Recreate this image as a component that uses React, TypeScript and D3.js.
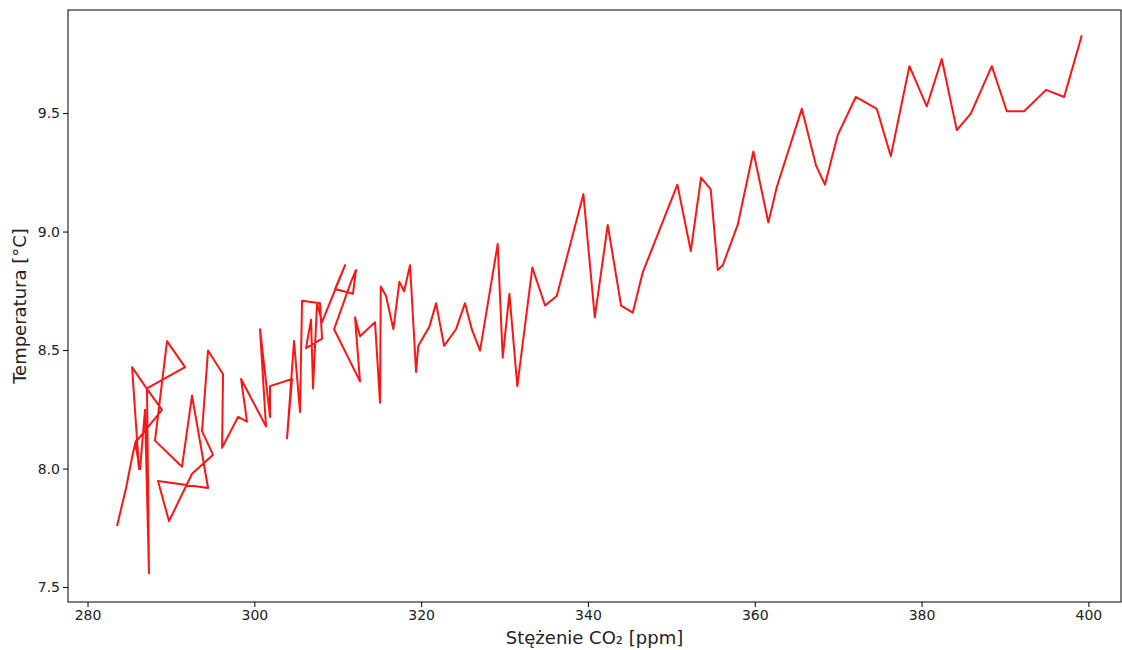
import React from "react";
import * as d3 from "d3";

// CO2 concentration (ppm) in drawing order
const co2 = [
  283.48, 284.56, 285.4, 285.76, 286.12, 285.28, 286.83, 288.87, 285.64, 286.24,
  286.83, 287.31, 287.07,
  291.63, 289.47, 288.03, 291.27, 292.47, 294.39, 288.39, 289.71, 292.47, 294.99,
  293.67, 294.39, 296.19, 296.07, 297.99, 299.06, 298.35, 301.34, 300.62, 301.82,
  301.82, 304.46, 303.86, 304.7, 305.42, 305.66, 307.82, 308.06, 306.14, 306.74,
  306.98, 307.46, 308.06, 310.82, 309.62, 311.77, 312.13, 311.53, 309.5, 312.61,
  312.01, 312.61, 314.41, 315.01,
  315.1, 315.73, 316.61, 317.33, 317.89, 318.61, 319.33, 319.6, 320.92, 321.73,
  322.69, 324.12, 325.2, 326.01, 327.0, 329.12, 329.72, 330.52, 331.47, 333.27,
  334.8, 336.2, 339.39, 340.76, 342.31, 343.91, 345.31, 346.51, 350.66, 352.27,
  353.5, 354.66, 355.5, 356.1, 357.89, 359.77, 361.57, 362.58, 365.58, 367.29,
  368.35, 369.89, 372.05, 374.57, 376.25, 378.48, 380.56, 382.36, 384.16, 385.84,
  388.36, 390.16, 392.23, 394.87, 397.03, 399.15,
];

// temperature (°C), same order
const temp = [
  7.76, 7.92, 8.07, 8.12, 8.0, 8.43, 8.35, 8.25, 8.11, 8.0,
  8.25, 7.56, 8.34,
  8.43, 8.54, 8.12, 8.01, 8.31, 7.92, 7.95, 7.78, 7.98, 8.06,
  8.16, 8.5, 8.4, 8.09, 8.22, 8.2, 8.38, 8.18, 8.59, 8.22,
  8.35, 8.38, 8.13, 8.54, 8.24, 8.71, 8.7, 8.55, 8.51, 8.63,
  8.34, 8.7, 8.62, 8.86, 8.76, 8.74, 8.84, 8.79, 8.59, 8.37,
  8.64, 8.56, 8.62, 8.28,
  8.77, 8.73, 8.59, 8.79, 8.75, 8.86, 8.41, 8.52, 8.6, 8.7,
  8.52, 8.59, 8.7, 8.59, 8.5, 8.95, 8.47, 8.74, 8.35, 8.85,
  8.69, 8.73, 9.16, 8.64, 9.03, 8.69, 8.66, 8.83, 9.2, 8.92,
  9.23, 9.18, 8.84, 8.86, 9.03, 9.34, 9.04, 9.19, 9.52, 9.28,
  9.2, 9.41, 9.57, 9.52, 9.32, 9.7, 9.53, 9.73, 9.43, 9.5,
  9.7, 9.51, 9.51, 9.6, 9.57, 9.83,
];

const xTicks = [280, 300, 320, 340, 360, 380, 400];
const yTicks = [7.5, 8.0, 8.5, 9.0, 9.5];

const W = 1122;
const H = 650;
const margin = { top: 10, right: 1, bottom: 48, left: 68 };

export default function App() {
  const w = W - margin.left - margin.right;
  const h = H - margin.top - margin.bottom;

  const x = d3.scaleLinear().domain([277.6, 403.85]).range([0, w]);
  const y = d3.scaleLinear().domain([7.439, 9.937]).range([h, 0]);

  const points: [number, number][] = co2.map((c, i) => [c, temp[i]]);
  const line = d3
    .line<[number, number]>()
    .x((d) => x(d[0]))
    .y((d) => y(d[1]));

  const font = "'DejaVu Sans', sans-serif";

  return (
    <svg
      width={W}
      height={H}
      style={{ position: "absolute", left: 0, top: 0, background: "#fff" }}
    >
      <g transform={`translate(${margin.left},${margin.top})`}>
        <path
          d={line(points) || ""}
          fill="none"
          stroke="#ff0000"
          strokeWidth={2}
          strokeLinejoin="round"
          opacity={0.92}
        />
        <rect x={0} y={0} width={w} height={h} fill="none" stroke="#000" strokeWidth={1} />

        {xTicks.map((t) => (
          <g key={t} transform={`translate(${x(t)},${h})`}>
            <line y2={5} stroke="#000" />
            <text y={18} textAnchor="middle" fontSize={14} fontFamily={font} fill="#222">
              {t}
            </text>
          </g>
        ))}
        {yTicks.map((t) => (
          <g key={t} transform={`translate(0,${y(t)})`}>
            <line x2={-5} stroke="#000" />
            <text x={-8} dy="0.35em" textAnchor="end" fontSize={14} fontFamily={font} fill="#222">
              {t.toFixed(1)}
            </text>
          </g>
        ))}

        <text
          x={w / 2}
          y={h + 42}
          textAnchor="middle"
          fontSize={18}
          fontFamily={font}
          fill="#222"
        >
          Stężenie CO₂ [ppm]
        </text>
        <text
          transform={`translate(${-42},${h / 2}) rotate(-90)`}
          textAnchor="middle"
          fontSize={18}
          fontFamily={font}
          fill="#222"
        >
          Temperatura [°C]
        </text>
      </g>
    </svg>
  );
}
